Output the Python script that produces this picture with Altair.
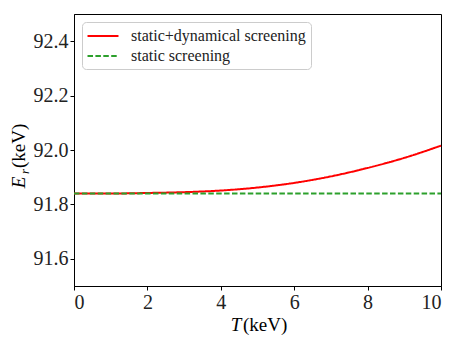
import altair as alt
import pandas as pd

T_dyn = [0, 1, 2, 3, 4, 5, 6, 7, 8, 9, 10]
E_dyn = [91.840, 91.840, 91.842, 91.845, 91.851, 91.862, 91.879, 91.903, 91.934, 91.971, 92.016]
T_stat = [0, 10]
E_stat = [91.840, 91.840]
series = ["static+dynamical screening", "static screening"]
colors = ["#ff0000", "#2ca02c"]
dashes = [[1, 0], [5.5, 2.4]]
x_ticks = [0, 2, 4, 6, 8, 10]
y_ticks = [91.6, 91.8, 92.0, 92.2, 92.4]

df = pd.concat([
    pd.DataFrame({"T": T_dyn, "E": E_dyn, "s": series[0]}),
    pd.DataFrame({"T": T_stat, "E": E_stat, "s": series[1]}),
])
one = pd.DataFrame({"k": [0]})

FONT = "Liberation Serif, Times New Roman, Times, serif"

lines = alt.Chart(df).mark_line(strokeWidth=2, interpolate="monotone").encode(
    x=alt.X("T:Q", scale=alt.Scale(domain=[0, 10], nice=False),
            axis=alt.Axis(values=x_ticks, format="d", title=None,
                          labelFont=FONT, labelFontSize=20)),
    y=alt.Y("E:Q", scale=alt.Scale(domain=[91.5, 92.5], nice=False, zero=False),
            axis=alt.Axis(values=y_ticks, format=".1f", title=None,
                          labelFont=FONT, labelFontSize=20)),
    color=alt.Color("s:N", scale=alt.Scale(domain=series, range=colors),
                    legend=alt.Legend(title=None)),
    strokeDash=alt.StrokeDash("s:N", scale=alt.Scale(domain=series, range=dashes),
                              legend=alt.Legend(title=None)),
)

def txt(s, x, y, size=19, italic=False, angle=0, align="center"):
    kw = dict(text=s, font=FONT, fontSize=size, align=align, baseline="alphabetic",
              color="black", fontWeight="normal")
    if italic:
        kw["fontStyle"] = "italic"
    if angle:
        kw["angle"] = angle
    return alt.Chart(one).mark_text(**kw).encode(x=alt.value(x), y=alt.value(y))

titles = [
    txt("T", 162, 317, italic=True),
    txt("(keV)", 169, 317, align="left"),
    txt("E", -49, 168.5, italic=True, angle=270),
    txt("r", -45, 157.5, size=13, italic=True, angle=270),
    txt("(keV)", -49, 154, angle=270, align="left"),
]

chart = alt.layer(lines, *titles).properties(
    width=367, height=272,
    autosize=alt.AutoSizeParams(type="none"),
    padding={"left": 66, "top": 6, "right": 10, "bottom": 52},
).configure(
    font=FONT
).configure_view(
    stroke="black", strokeWidth=1
).configure_axis(
    grid=False, domainColor="black", tickColor="black", tickSize=4,
    labelFont=FONT, labelFontSize=20, labelColor="#222222", labelPadding=2,
    domainWidth=1, tickWidth=1,
).configure_legend(
    orient="none", legendX=8, legendY=8,
    labelFont=FONT, labelFontSize=16, labelColor="#222222", labelLimit=400,
    symbolType="M-2,0H2", symbolSize=240, symbolStrokeWidth=2, symbolOffset=7,
    strokeColor="#cccccc", fillColor="white", cornerRadius=4, padding=5,
    labelOffset=19, rowPadding=3,
)

chart.save("out.html", embed_options={"renderer": "svg", "actions": False})
